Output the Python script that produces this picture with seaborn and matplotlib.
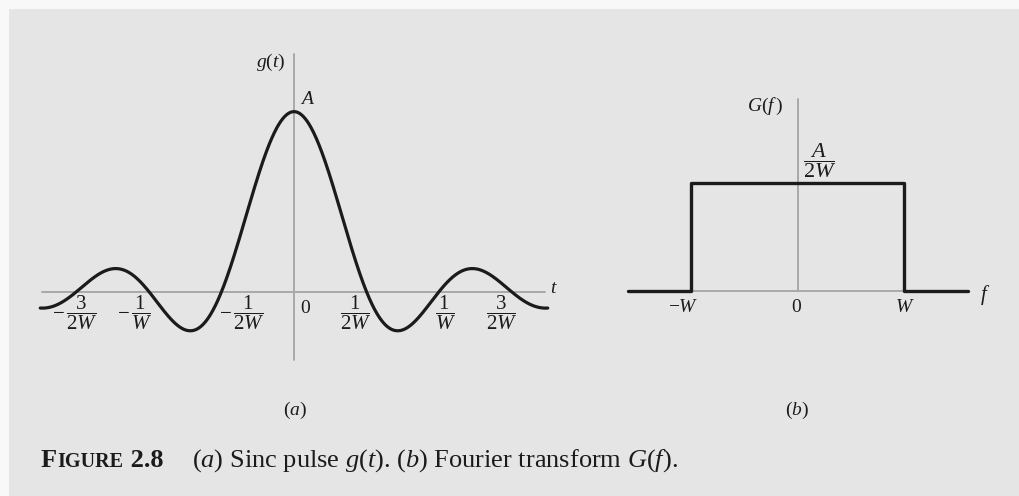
import numpy as np
import pandas as pd
import matplotlib
matplotlib.use("Agg")
import matplotlib.pyplot as plt
import seaborn as sns

# ---- signal parameters -------------------------------------------------
A = 1.0          # peak amplitude of the pulse
W = 1.0          # bandwidth

# sinc pulse g(t) = A sinc(2Wt), drawn over |t| <= 1.75/W
t_values = np.linspace(-1.75 / W, 1.75 / W, 801)
g_values = A * np.sinc(2 * W * t_values)

# zero-crossing ticks of g(t) and their labels
t_ticks = np.array([-3 / 2, -1, -1 / 2, 0, 1 / 2, 1, 3 / 2]) / W
t_tick_labels = [r"$-\,\dfrac{3}{2W}$", r"$-\,\dfrac{1}{W}$", r"$-\,\dfrac{1}{2W}$",
                 "0", r"$\dfrac{1}{2W}$", r"$\dfrac{1}{W}$", r"$\dfrac{3}{2W}$"]
# horizontal nudges of those labels (points) so they clear the curve
t_label_dx = [-1, -10, 15, 8, -8, 5, -7]

# rectangular spectrum G(f) = A/(2W) for |f| < W
f_corners = np.array([-1.6, -1, -1, 1, 1, 1.6]) * W
G_corners = np.array([0, 0, 1, 1, 0, 0]) * A / (2 * W)
f_ticks = np.array([-1, 0, 1]) * W
f_tick_labels = [r"$-W$", "0", r"$W$"]
f_label_dx = [-6, -1, 0]

# ---- style -------------------------------------------------------------
sns.set_theme(style="white")
plt.rcParams.update({
    "font.family": ["Liberation Serif", "DejaVu Serif"],
    "mathtext.fontset": "custom",
    "mathtext.rm": "Liberation Serif",
    "mathtext.it": "Liberation Serif:italic",
    "mathtext.bf": "Liberation Serif:bold",
})

INK = "#1b1b1b"
AXIS = "#a9a9a9"
PANEL = "#e5e5e5"

FW, FH = 1020, 496
fig = plt.figure(figsize=(FW / 100, FH / 100), dpi=100)
fig.patch.set_facecolor("#f8f8f8")
fig.add_artist(plt.Rectangle((9 / FW, 0), 1, 1 - 9 / FH, transform=fig.transFigure,
                             facecolor=PANEL, edgecolor="none", zorder=0))


def px_axes(x0, y0, x1, y1):
    ax = fig.add_axes([x0 / FW, 1 - y1 / FH, (x1 - x0) / FW, (y1 - y0) / FH])
    ax.set_axis_off()
    ax.patch.set_alpha(0)
    return ax


# ---- (a) sinc pulse ----------------------------------------------------
axL = px_axes(30, 40, 560, 380)
axL.set_xlim(-1.8207 / W, 1.8345 / W)
axL.set_ylim(-0.4906 * A, 1.398 * A)

axL.plot([t_values[0] * 0.992, t_values[-1] * 0.99], [0, 0], color=AXIS, lw=1.4, zorder=1)
axL.plot([0, 0], [-0.38 * A, 1.32 * A], color=AXIS, lw=1.4, zorder=1)

pulse = pd.DataFrame({"t": t_values, "g": g_values})
sns.lineplot(data=pulse, x="t", y="g", ax=axL, color=INK, lw=2.3, sort=False,
             estimator=None, zorder=3)

for tk, lab, dx in zip(t_ticks, t_tick_labels, t_label_dx):
    if lab == "0":
        axL.annotate(lab, xy=(tk, 0), xytext=(dx, -12), textcoords="offset points",
                     ha="center", va="center", fontsize=14, color=INK)
    else:
        axL.annotate(lab, xy=(tk, 0), xytext=(dx, -15.5), textcoords="offset points",
                     ha="center", va="center", fontsize=15, color=INK)

axL.text(0.095 / W, 1.065 * A, r"$A$", fontsize=14, color=INK, ha="center", va="center")
axL.text(-0.16 / W, 1.276 * A, r"$g(t)$", fontsize=14, color=INK, ha="center", va="center")
axL.text(1.793 / W, 0.02 * A, r"$t$", fontsize=14, color=INK, ha="center", va="center")

# ---- (b) rectangular spectrum ------------------------------------------
axR = px_axes(600, 80, 1010, 380)
axR.set_xlim(-1.859 * W, 1.991 * W)
axR.set_ylim(-0.4155 * A / W, 0.981 * A / W)

axR.plot([f_corners[0], f_corners[-1]], [0, 0], color=AXIS, lw=1.4, zorder=1)
axR.plot([0, 0], [0, 0.8925 * A / W], color=AXIS, lw=1.4, zorder=1)

spectrum = pd.DataFrame({"f": f_corners, "G": G_corners})
sns.lineplot(data=spectrum, x="f", y="G", ax=axR, color=INK, lw=2.4, sort=False,
             estimator=None, zorder=3)

for fk, lab, dx in zip(f_ticks, f_tick_labels, f_label_dx):
    axR.annotate(lab, xy=(fk, 0), xytext=(dx, -12), textcoords="offset points",
                 ha="center", va="center", fontsize=14, color=INK)

axR.text(0.207 * W, 0.605 * A / W, r"$\dfrac{A}{2W}$", fontsize=16, color=INK,
         ha="center", va="center")
axR.text(-0.31 * W, 0.86 * A / W, r"$G(f\,)$", fontsize=14, color=INK, ha="center", va="center")
axR.text(1.756 * W, -0.02 * A / W, r"$f$", fontsize=15, color=INK, ha="center", va="center")

# ---- panel tags and caption --------------------------------------------
fig.text(295 / FW, 1 - 410 / FH, r"($a$)", fontsize=14, color=INK, ha="center", va="center")
fig.text(797 / FW, 1 - 410 / FH, r"($b$)", fontsize=14, color=INK, ha="center", va="center")

renderer = fig.canvas.get_renderer()
base_y = 1 - 467 / FH
runs = [("F", 19, "bold"), ("IGURE", 14.5, "bold"), (" 2.8", 19, "bold")]
x = 41
for txt, size, weight in runs:
    t = fig.text(x / FW, base_y, txt, fontsize=size, fontweight=weight, color=INK,
                 va="baseline", ha="left")
    x = t.get_window_extent(renderer).x1 + 0.5
fig.text(192 / FW, base_y, r"($a$) Sinc pulse $g(t)$. ($b$) Fourier transform $G(f)$.",
         fontsize=19, color=INK, va="baseline", ha="left")

fig.savefig("out.png", dpi=100, facecolor=fig.get_facecolor())
